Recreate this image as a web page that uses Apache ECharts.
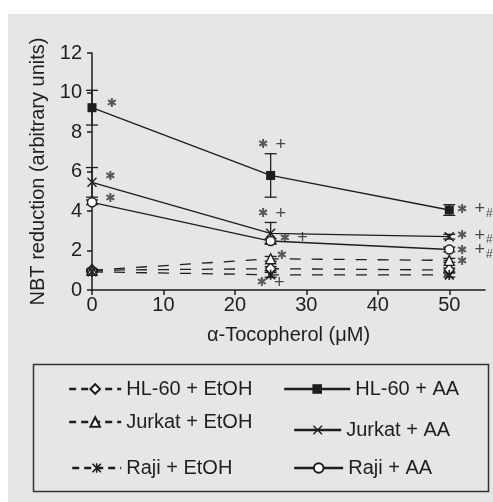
<!DOCTYPE html>
<html>
<head>
<meta charset="utf-8">
<script src="https://cdn.jsdelivr.net/npm/echarts@6/dist/echarts.min.js"></script>
<style>
html, body { margin: 0; padding: 0; background: #fff; }
#main { width: 493px; height: 502px; }
</style>
</head>
<body>
<div id="main"></div>
<script>
// doses of alpha-tocopherol (uM)
var doses = [0, 25, 50];
var xTicks = [0, 10, 20, 30, 40, 50];

// mean NBT reduction
var hl60AA = [9.23, 5.8, 4.05];
var jurkatAA = [5.45, 2.87, 2.70];
var rajiAA = [4.44, 2.48, 2.05];
var hl60EtOH = [1.0, 1.08, 1.01];
var jurkatEtOH = [1.0, 1.58, 1.5];
var rajiEtOH = [0.92, 0.77, 0.76];

// error (half width)
var hl60AAErr = [0.88, 1.1, 0.27];
var jurkatAAErr = [0.75, 0.55, 0.12];
var rajiAAErr = [0.12, 0.12, 0.12];
var hl60EtOHErr = [0.05, 0.1, 0.1];
var jurkatEtOHErr = [0.05, 0.12, 0.1];
var rajiEtOHErr = [0.05, 0.12, 0.1];

// significance marks [x, y, text, side]
var marks = [
    [2.0, 9.45, '*', 'right'],
    [1.8, 5.75, '*', 'right'],
    [1.8, 4.62, '*', 'right'],
    [25.2, 7.35, '* +', 'inside'],
    [25.2, 3.85, '* +', 'inside'],
    [26.2, 2.62, '* +', 'right'],
    [25.8, 1.75, '*', 'right'],
    [25.0, 0.35, '* +', 'inside'],
    [51.0, 4.08, '* +#', 'right'],
    [51.0, 2.73, '* +#', 'right'],
    [51.0, 2.0, '* +#', 'right'],
    [51.0, 1.45, '*', 'right']
];

var ink = '#1e1e1e';
var font = 'Liberation Sans';

var xPath = 'path://M0,1 L1,0 L5,4 L9,0 L10,1 L6,5 L10,9 L9,10 L5,6 L1,10 L0,9 L4,5 Z';
var starPath = 'path://M0,1.2 L1.2,0 L5,3.8 L8.8,0 L10,1.2 L6.2,5 L10,8.8 L8.8,10 L5,6.2 L1.2,10 L0,8.8 L3.8,5 Z M4.2,0 L5.8,0 L5.8,10 L4.2,10 Z';

function pairs(ys) {
    var out = [];
    for (var i = 0; i < doses.length; i++) out.push([doses[i], ys[i]]);
    return out;
}
function errPairs(ys, es) {
    var out = [];
    for (var i = 0; i < doses.length; i++) out.push([doses[i], ys[i] - es[i], ys[i] + es[i]]);
    return out;
}

function lineSeries(name, ys, symbol, size, fill, dashed) {
    return {
        name: name,
        type: 'line',
        data: pairs(ys),
        symbol: symbol,
        symbolSize: size,
        showAllSymbol: true,
        z: 3,
        lineStyle: { color: ink, width: 1.3, type: dashed ? [11, 11] : 'solid' },
        itemStyle: { color: fill, borderColor: ink, borderWidth: fill == ink ? 0 : 1.4 }
    };
}

function errSeries(ys, es) {
    return {
        type: 'custom',
        data: errPairs(ys, es),
        z: 2,
        silent: true,
        renderItem: function (params, api) {
            var lo = api.coord([api.value(0), api.value(1)]);
            var hi = api.coord([api.value(0), api.value(2)]);
            var w = 6;
            var st = { stroke: ink, lineWidth: 1.3 };
            return {
                type: 'group',
                children: [
                    { type: 'line', shape: { x1: lo[0], y1: lo[1], x2: hi[0], y2: hi[1] }, style: st },
                    { type: 'line', shape: { x1: lo[0] - w, y1: lo[1], x2: lo[0] + w, y2: lo[1] }, style: st },
                    { type: 'line', shape: { x1: hi[0] - w, y1: hi[1], x2: hi[0] + w, y2: hi[1] }, style: st }
                ]
            };
        }
    };
}

function legendAt(name, left, top, width, dashed) {
    return {
        data: [name],
        left: left,
        top: top,
        orient: 'vertical',
        selectedMode: false,
        itemWidth: width,
        itemHeight: 12,
        itemGap: 0,
        padding: 0,
        lineStyle: { width: 2.4, type: dashed ? [7, 5] : 'solid' },
        textStyle: { fontFamily: font, fontSize: 20, color: ink, lineHeight: 20 }
    };
}

var markData = marks.map(function (m) {
    return {
        value: [m[0], m[1]],
        name: m[2],
        label: { position: m[3], distance: 0 }
    };
});

var chart = echarts.init(document.getElementById('main'));
var option = {
    backgroundColor: '#ffffff',
    animation: false,
    graphic: [
        { type: 'rect', left: 8, top: 14, shape: { width: 485, height: 488 }, style: { fill: '#e5e6e7' }, z: -10 },
        { type: 'rect', left: 31, top: 362, shape: { width: 455, height: 127 }, style: { fill: 'none', stroke: '#333', lineWidth: 1.5 }, z: -5 },
        { type: 'text', left: 207, top: 325, style: { text: 'α-Tocopherol (μM)', font: '20px "Liberation Sans"', fill: ink } }
    ],
    grid: { left: 92, top: 53, width: 393, height: 237 },
    xAxis: {
        type: 'value',
        min: 0,
        max: 55,
        interval: 10,
        splitLine: { show: false },
        axisLine: { lineStyle: { color: ink, width: 1.5 } },
        axisTick: { length: 5, lineStyle: { color: ink, width: 1.5 }, customValues: xTicks },
        axisLabel: { fontFamily: font, fontSize: 20, color: ink, margin: 5, customValues: xTicks }
    },
    yAxis: {
        type: 'value',
        min: 0,
        max: 12,
        interval: 2,
        name: 'NBT reduction (arbitrary units)',
        nameLocation: 'middle',
        nameGap: 42,
        nameTextStyle: { fontFamily: font, fontSize: 20, color: ink },
        splitLine: { show: false },
        axisLine: { lineStyle: { color: ink, width: 1.5 } },
        axisTick: { length: 5, lineStyle: { color: ink, width: 1.5 } },
        axisLabel: { fontFamily: font, fontSize: 20, color: ink, margin: 10 }
    },
    legend: [
        legendAt('HL-60 + EtOH', 68, 379, 52, true),
        legendAt('Jurkat + EtOH', 68, 412, 52, true),
        legendAt('Raji + EtOH', 71, 458, 49, true),
        legendAt('HL-60 + AA', 283, 379, 66, false),
        legendAt('Jurkat + AA', 293, 420, 47, false),
        legendAt('Raji + AA', 293, 458, 49, false)
    ],
    series: [
        errSeries(hl60EtOH, hl60EtOHErr),
        errSeries(jurkatEtOH, jurkatEtOHErr),
        errSeries(rajiEtOH, rajiEtOHErr),
        errSeries(hl60AA, hl60AAErr),
        errSeries(jurkatAA, jurkatAAErr),
        errSeries(rajiAA, rajiAAErr),
        lineSeries('HL-60 + EtOH', hl60EtOH, 'diamond', [10, 12], '#ffffff', true),
        lineSeries('Jurkat + EtOH', jurkatEtOH, 'triangle', 10, '#ffffff', true),
        lineSeries('Raji + EtOH', rajiEtOH, starPath, 10, ink, true),
        lineSeries('HL-60 + AA', hl60AA, 'rect', 9, ink, false),
        lineSeries('Jurkat + AA', jurkatAA, xPath, 10, ink, false),
        lineSeries('Raji + AA', rajiAA, 'circle', 9, '#ffffff', false),
        {
            type: 'scatter',
            data: markData,
            symbolSize: 1,
            itemStyle: { color: 'rgba(0,0,0,0)' },
            silent: true,
            z: 4,
            labelLayout: { hideOverlap: false },
            label: {
                show: true,
                color: ink,
                fontFamily: font,
                fontSize: 18,
                formatter: function (p) {
                    return p.name.replace('*', '{a|✱}').replace('#', '{s|#}');
                },
                rich: {
                    a: { fontSize: 12.5, fontFamily: 'DejaVu Sans', color: '#333', padding: [0, 2, 0, 0] },
                    s: { fontSize: 12, fontFamily: font, color: ink, padding: [8, 0, 0, 1] }
                }
            }
        }
    ]
};
chart.setOption(option);
</script>
</body>
</html>
